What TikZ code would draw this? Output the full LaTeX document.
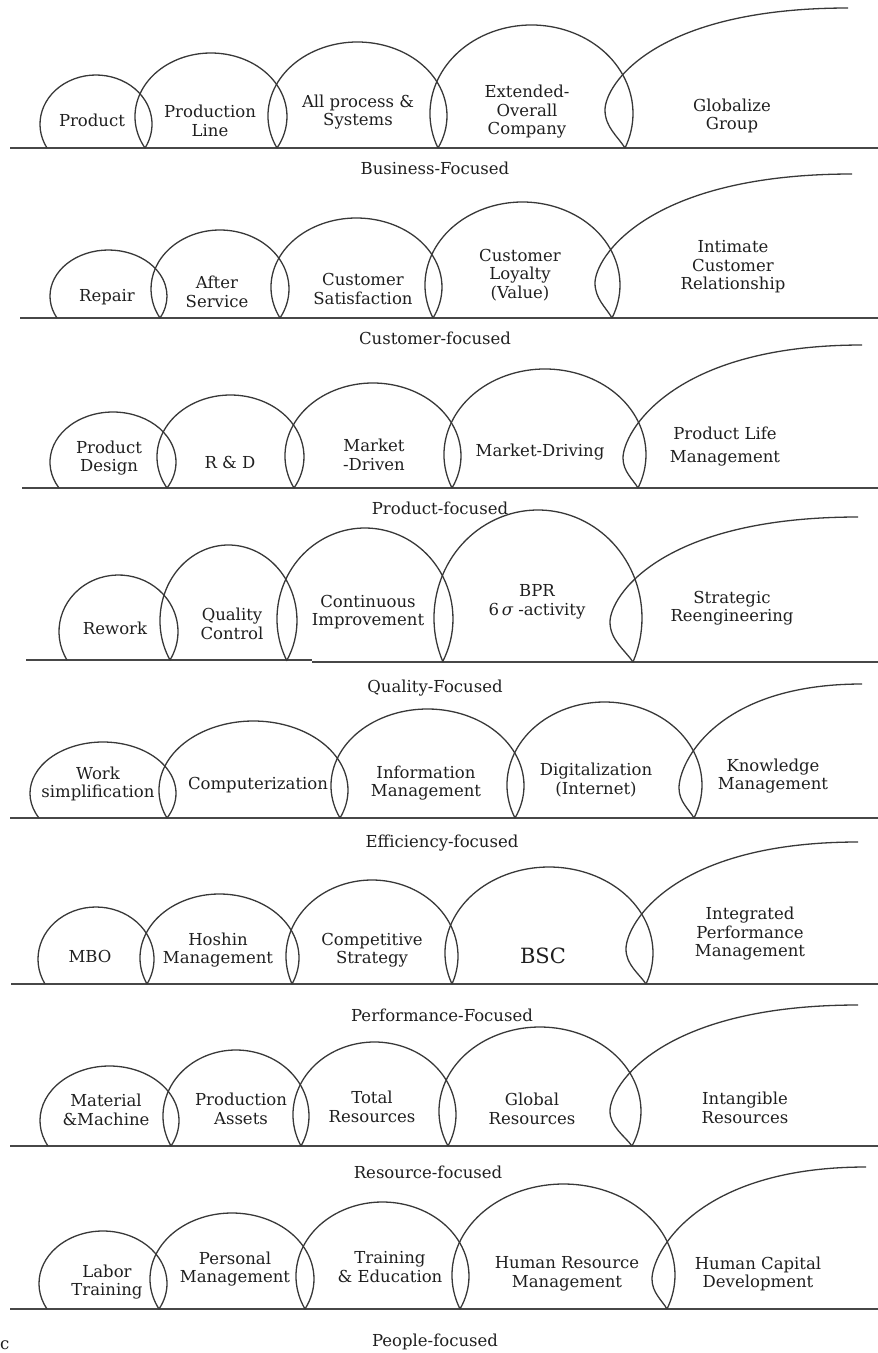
\documentclass[tikz,border=0pt]{standalone}
\usepackage{fontspec}
\setmainfont{DejaVu Serif}
\newcommand{\archd}[5]{% #1 xL, #2 xR, #3 y0, #4 ytop, #5 bulge
  \pgfmathsetmacro\myw{(#2-#1)/2}%
  \pgfmathsetmacro\mya{\myw+#5}%
  \pgfmathsetmacro\myr{sqrt(1-(\myw/\mya)^2)}%
  \pgfmathsetmacro\mybv{(#3-#4)/(1+\myr)}%
  \pgfmathsetmacro\myal{asin(\myr)}%
  \draw[arch] (#1,-#3) arc[start angle=180+\myal, end angle=-\myal, x radius=\mya, y radius=\mybv];
}
\newcommand{\openarc}[6]{% #1 xF, #2 y0, #3 xB, #4 hB, #5 xE, #6 yE
  \pgfmathsetmacro\myk{0.8*(#5-#3)}%
  \pgfmathsetmacro\myca{#1-0.35*(#1-#3)}%
  \draw[arch] (#1,-#2) .. controls (\myca,{-#2+0.3*#4}) and (#3,{-#2+0.55*#4}) .. (#3,{-#2+#4})
     .. controls (#3,{-#2+#4+25}) and ({#5-\myk},-#6) .. (#5,-#6);
}
\tikzset{
  arch/.style={draw=black!78, line width=1.3pt},
  base/.style={draw=black!72, line width=2.3pt},
  lbl/.style={font=\fontsize{16.5}{18.5}\selectfont, align=center, inner sep=0pt, text=black!88},
}
\begin{document}
\begin{tikzpicture}[x=1pt,y=1pt]
\useasboundingbox (0,0) rectangle (878,-1353);
% ---------- Row 1
\draw[base] (10,-148) -- (878,-148);
\archd{47}{145}{148}{75}{7}
\archd{145}{277}{148}{53}{10}
\archd{277}{438}{148}{42}{9}
\archd{438}{625}{148}{25}{8}
\openarc{625}{148}{605}{38}{848}{8}
\node[lbl] (r1a) at (92,-120) {Product};
\node[lbl] (r1b) at (210,-121) {Production\\Line};
\node[lbl] (r1c) at (358,-112) {All process \&\\Systems};
\node[lbl] (r1d) at (527,-112) {Extended-\\Overall\\Company};
\node[lbl] (r1e) at (732,-116) {Globalize\\Group};
\node[lbl] (r1l) at (435,-168) {Business-Focused};
% ---------- Row 2
\draw[base] (20,-318) -- (878,-318);
\archd{57}{160}{318}{250}{7}
\archd{160}{280}{318}{230}{9}
\archd{280}{433}{318}{218}{9}
\archd{433}{612}{318}{202}{8}
\openarc{612}{318}{595}{35}{852}{174}
\node[lbl] (r2a) at (107,-297) {Repair};
\node[lbl] (r2b) at (217,-292) {After\\Service};
\node[lbl] (r2c) at (363,-289) {Customer\\Satisfaction};
\node[lbl] (r2d) at (520,-275) {Customer\\Loyalty\\(Value)};
\node[lbl] (r2e) at (733,-267) {Intimate\\Customer\\Relationship};
\node[lbl] (r2l) at (435,-338) {Customer-focused};
% ---------- Row 3
\draw[base] (22,-488) -- (878,-488);
\archd{59}{167}{488}{412}{9}
\archd{167}{294}{488}{395}{10}
\archd{294}{452}{488}{383}{9}
\archd{452}{638}{488}{369}{8}
\openarc{638}{488}{623}{30}{862}{345}
\node[lbl] (r3a) at (109,-458) {Product\\Design};
\node[lbl] (r3b) at (230,-462) {R \& D};
\node[lbl] (r3c) at (374,-455) {Market\\-Driven};
\node[lbl] (r3d) at (540,-452) {Market-Driving};
\node[lbl,font=\fontsize{16.5}{23}\selectfont] (r3e) at (725,-447) {Product Life\\Management};
\node[lbl] (r3l) at (440,-508) {Product-focused};
% ---------- Row 4
\draw[base] (26,-660) -- (312,-660);
\draw[base] (312,-662) -- (878,-662);
\archd{67}{170}{660}{575}{8}
\archd{170}{287}{660}{545}{10}
\archd{287}{443}{661}{528}{10}
\archd{443}{633}{662}{510}{9}
\openarc{633}{662}{610}{40}{858}{517}
\node[lbl] (r4a) at (115,-628) {Rework};
\node[lbl] (r4b) at (232,-624) {Quality\\Control};
\node[lbl] (r4c) at (368,-612) {Continuous\\Improvement};
\node[lbl] (r4d) at (537,-602) {BPR\\6\,{\itshape σ} -activity};
\node[lbl] (r4e) at (732,-608) {Strategic\\Reengineering};
\node[lbl] (r4l) at (435,-688) {Quality-Focused};
% ---------- Row 5
\draw[base] (10,-818) -- (878,-818);
\archd{39}{167}{818}{742}{9}
\archd{167}{340}{818}{721}{8}
\archd{340}{515}{818}{709}{9}
\archd{515}{694}{818}{702}{8}
\openarc{694}{818}{679}{30}{862}{684}
\node[lbl] (r5a) at (98,-784) {Work\\simplification};
\node[lbl] (r5b) at (258,-785) {Computerization};
\node[lbl] (r5c) at (426,-783) {Information\\Management};
\node[lbl] (r5d) at (596,-780) {Digitalization\\(Internet)};
\node[lbl] (r5e) at (773,-776) {Knowledge\\Management};
\node[lbl] (r5l) at (442,-843) {Efficiency-focused};
% ---------- Row 6
\draw[base] (11,-984) -- (878,-984);
\archd{45}{147}{984}{907}{7}
\archd{147}{292}{984}{894}{7}
\archd{292}{452}{984}{880}{6}
\archd{452}{646}{984}{867}{7}
\openarc{646}{984}{626}{35}{858}{842}
\node[lbl] (r6a) at (90,-956) {MBO};
\node[lbl] (r6b) at (218,-950) {Hoshin\\Management};
\node[lbl] (r6c) at (372,-950) {Competitive\\Strategy};
\node[lbl,font=\fontsize{21}{23}\selectfont] (r6d) at (543,-956) {BSC};
\node[lbl] (r6e) at (750,-934) {Integrated\\Performance\\Management};
\node[lbl] (r6l) at (442,-1015) {Performance-Focused};
% ---------- Row 7
\draw[base] (10,-1146) -- (878,-1146);
\archd{48}{171}{1146}{1066}{8}
\archd{171}{301}{1146}{1050}{8}
\archd{301}{448}{1146}{1042}{8}
\archd{448}{632}{1146}{1027}{9}
\openarc{632}{1146}{610}{35}{858}{1005}
\node[lbl] (r7a) at (106,-1110) {Material\\\&Machine};
\node[lbl] (r7b) at (241,-1109) {Production\\Assets};
\node[lbl] (r7c) at (372,-1107) {Total\\Resources};
\node[lbl] (r7d) at (532,-1109) {Global\\Resources};
\node[lbl] (r7e) at (745,-1108) {Intangible\\Resources};
\node[lbl] (r7l) at (428,-1172) {Resource-focused};
% ---------- Row 8
\draw[base] (10,-1309) -- (878,-1309);
\archd{47}{159}{1309}{1231}{8}
\archd{159}{305}{1309}{1213}{9}
\archd{305}{460}{1309}{1202}{9}
\archd{460}{667}{1309}{1184}{8}
\openarc{667}{1309}{652}{30}{866}{1167}
\node[lbl] (r8a) at (107,-1282) {Labor\\Training};
\node[lbl] (r8b) at (235,-1269) {Personal\\Management};
\node[lbl] (r8c) at (390,-1267) {Training\\\& Education};
\node[lbl] (r8d) at (567,-1274) {Human Resource\\Management};
\node[lbl] (r8e) at (758,-1274) {Human Capital\\Development};
\node[lbl] (r8l) at (435,-1342) {People-focused};
\node[lbl,anchor=west] (cc) at (0,-1345) {c};
\end{tikzpicture}
\end{document}
